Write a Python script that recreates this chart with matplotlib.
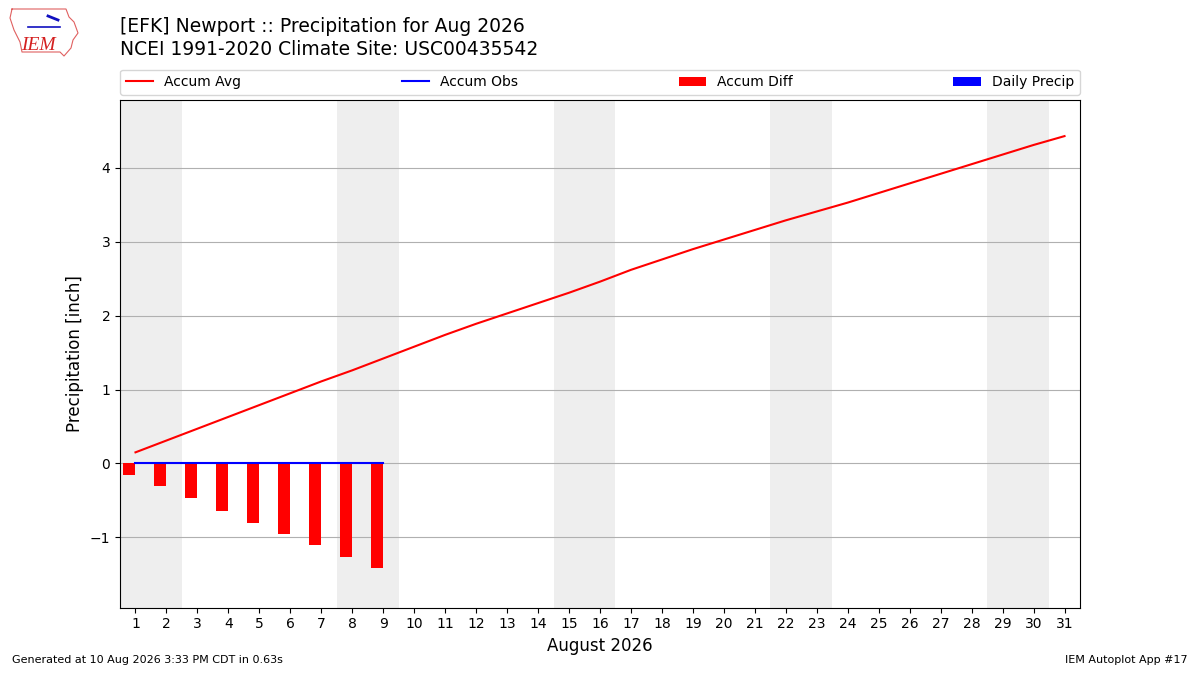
import matplotlib
matplotlib.use("Agg")
import matplotlib.pyplot as plt
from matplotlib.lines import Line2D
import numpy as np

days = list(range(1, 32))
accum_avg = [0.15, 0.31, 0.47, 0.63, 0.79, 0.95, 1.11, 1.26, 1.42, 1.58,
             1.74, 1.89, 2.03, 2.17, 2.31, 2.46, 2.62, 2.76, 2.90, 3.03,
             3.16, 3.29, 3.41, 3.53, 3.66, 3.79, 3.92, 4.05, 4.18, 4.31, 4.43]
obs_days = list(range(1, 10))
accum_obs = [0.0] * 9
accum_diff = [-0.15, -0.31, -0.47, -0.64, -0.80, -0.96, -1.11, -1.27, -1.42]
daily_precip = [0.0] * 9
weekend_starts = [1, 8, 15, 22, 29]

W, H = 1200, 675
fig = plt.figure(figsize=(12, 6.75), dpi=100)
ax = fig.add_axes([0.1, 0.1, 0.8, 0.752])

for s in weekend_starts:
    ax.axvspan(s - 0.5, s + 1.5, color="#eeeeee", zorder=0, lw=0)

ax.plot(days, accum_avg, color="red", lw=1.5, label="Accum Avg", zorder=3)
ax.plot(obs_days, accum_obs, color="blue", lw=1.5, label="Accum Obs", zorder=4)
ax.bar(obs_days, accum_diff, width=-0.4, align="edge", color="red",
       label="Accum Diff", zorder=2)
ax.bar(obs_days, daily_precip, width=0.4, align="edge", color="blue",
       label="Daily Precip", zorder=2)

ax.set_xlim(0.5, 31.5)
ax.set_ylim(-1.95, 4.92)
ax.set_xticks(days)
ax.set_xticklabels([str(d) for d in days], fontsize=10)
ax.set_yticks([-1, 0, 1, 2, 3, 4])
ax.set_yticklabels(["\u22121", "0", "1", "2", "3", "4"], fontsize=10)
ax.grid(axis="y", color="#b0b0b0", lw=0.8)
ax.set_axisbelow(True)
ax.set_ylabel("Precipitation [inch]", fontsize=12)
ax.set_xlabel("August 2026", fontsize=12)

ax.legend(loc="lower left", bbox_to_anchor=(0, 1.01, 1, 0.05), mode="expand",
          ncol=4, fontsize=10, borderaxespad=0, handlelength=2.0)

fig.text(0.1, 0.960, "[EFK] Newport :: Precipitation for Aug 2026", fontsize=13.5,
         va="center", ha="left")
fig.text(0.1, 0.926, "NCEI 1991-2020 Climate Site: USC00435542", fontsize=13.5,
         va="center", ha="left")

# simple IEM logo
outline = [(12, 9), (66, 9), (69, 17), (74, 22), (78, 33), (73, 40), (71, 48),
           (64, 56), (60, 52), (22, 52), (20, 42), (14, 30), (10, 18), (12, 9)]
fig.add_artist(Line2D([p[0] / W for p in outline], [1 - p[1] / H for p in outline],
                      color="#e06060", lw=0.8, transform=fig.transFigure))
fig.add_artist(Line2D([28 / W, 60 / W], [1 - 27 / H, 1 - 27 / H], color="#1010c0",
                      lw=1.2, transform=fig.transFigure))
fig.add_artist(Line2D([48 / W, 58 / W], [1 - 16 / H, 1 - 20 / H], color="#1010c0",
                      lw=2.0, transform=fig.transFigure))
fig.text(38 / W, 1 - 45 / H, "IEM", fontsize=14, color="#d42020", style="italic",
         family="Liberation Serif", ha="center", va="center")

fig.text(0.01, 0.015, "Generated at 10 Aug 2026 3:33 PM CDT in 0.63s", fontsize=8,
         ha="left", va="bottom")
fig.text(0.99, 0.015, "IEM Autoplot App #17", fontsize=8, ha="right", va="bottom")

fig.savefig("out.png", dpi=100)
